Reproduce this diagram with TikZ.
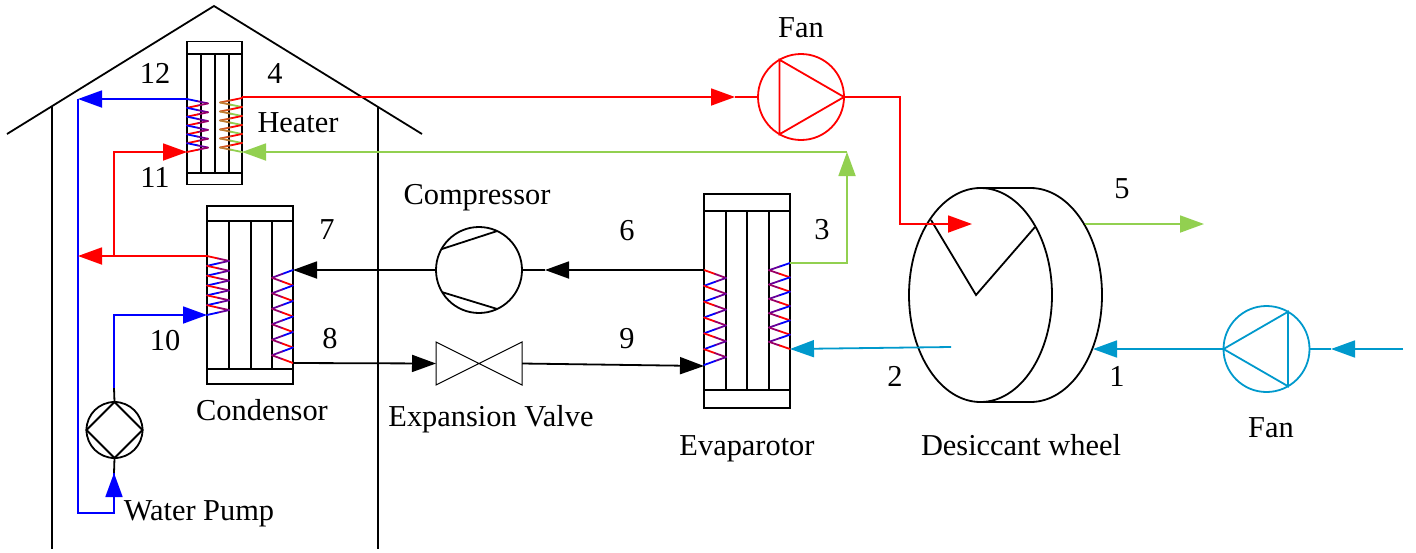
\documentclass[tikz,border=0pt]{standalone}
\usepackage{fontspec}
\setmainfont{Liberation Serif}
\usepackage{xcolor}
\usetikzlibrary{arrows.meta,shapes.geometric}

\definecolor{aircol}{HTML}{92D050}
\definecolor{ambcol}{HTML}{0099CC}

\tikzset{
  lbl/.style={font=\fontsize{15.2}{18}\selectfont,inner sep=0pt},
  part/.style={draw,inner sep=0pt,outer sep=0pt,line width=0.9pt},
  pipe/.style={line width=0.9pt},
  tip/.style={-{Triangle[length=12pt,width=8.5pt]}}
}

% outer x, inner x, top y, bottom y, two colours
\newcommand{\coil}[6]{%
  \pgfmathsetmacro{\dy}{(#4-#3)/12}
  \pgfmathsetmacro{\xm}{(#1+#2)/2}
  \foreach \k in {0,...,5} {
    \pgfmathsetmacro{\ya}{#3+2*\k*\dy}
    \pgfmathsetmacro{\yb}{\ya+0.5*\dy}
    \pgfmathsetmacro{\yc}{\ya+\dy}
    \pgfmathsetmacro{\yd}{\ya+1.5*\dy}
    \pgfmathsetmacro{\ye}{\ya+2*\dy}
    \draw[pipe,line cap=round,#5] (#1,\ya) -- (\xm,\yb);
    \draw[pipe,line cap=round,#5!60!#6] (\xm,\yb) -- (#2,\yc);
    \draw[pipe,line cap=round,#6!60!#5] (#2,\yc) -- (\xm,\yd);
    \draw[pipe,line cap=round,#6] (\xm,\yd) -- (#1,\ye);
  }
}
% headers and plates of an exchanger: name, y of the headers, x of the plates
\newcommand{\plates}[6]{%
  \draw[pipe] (#1.west |- 0,#2) -- (#1.east |- 0,#2);
  \draw[pipe] (#1.west |- 0,#3) -- (#1.east |- 0,#3);
  \foreach \xp in {#4,#5,#6}
    \draw[pipe] (\xp,#2) -- (\xp,#3);
}

\begin{document}
\begin{tikzpicture}[x=0.5pt,y=-0.5pt]
    \useasboundingbox (0,0) rectangle (1416,552);

    % House
    \coordinate (roofL) at (7,134);
    \coordinate (roofT) at (214,6);
    \coordinate (roofR) at (422,134);
    \draw[pipe] (roofL) -- (roofT) -- (roofR);
    \draw[pipe] (52,106) -- (52,549);
    \draw[pipe] (378,107) -- (378,549);

    % Exchangers
    \node[part,minimum width=27.5pt,minimum height=71.5pt] (heater) at (214.5,113) {};
    \node[part,minimum width=43pt,minimum height=89pt] (condensor) at (250,295) {};
    \node[part,minimum width=43pt,minimum height=107pt] (evaporator) at (747,301) {};
    \plates{heater}{54}{173}{201}{215}{229}
    \plates{condensor}{221}{369}{229}{251}{272}
    \plates{evaporator}{211}{390}{726}{747}{769}

    % Coils
    \coil{187}{208}{99}{152}{blue}{red}
    \coil{242}{220}{98}{152}{red}{aircol}
    \coil{207}{229}{256}{315}{red}{blue}
    \coil{293}{272}{270}{363}{blue}{red}
    \coil{704}{726}{270}{365}{red}{blue}
    \coil{790}{769}{263}{349}{blue}{red}

    % Compressor and valve
    \node[part,circle,minimum size=43pt] (compressor) at (479,270) {};
    \draw[pipe] (compressor.151) -- (compressor.65);
    \draw[pipe] (compressor.211) -- (compressor.-65);
    \node[inner sep=0pt,outer sep=0pt,minimum width=43pt,minimum height=21.5pt] (valve) at (479,363.5) {};
    \draw[line width=0.5pt] (valve.north west) -- (valve.south east) -- (valve.north east)
        -- (valve.south west) -- cycle;

    % Fans and pump
    \node[part,circle,red,minimum size=43pt] (fanred) at (801,97) {};
    \draw[pipe,red] (fanred.0) -- (fanred.120) -- (fanred.240) -- cycle;
    \node[part,circle,ambcol,minimum size=43pt] (fanblue) at (1266.5,349) {};
    \draw[pipe,ambcol] (fanblue.180) -- (fanblue.60) -- (fanblue.-60) -- cycle;
    \node[part,circle,minimum size=28pt] (pump) at (114.5,430) {};
    \draw[pipe] (pump.0) -- (pump.90) -- (pump.180) -- (pump.270) -- cycle;

    % Desiccant wheel
    \node[part,ellipse,minimum width=71.5pt,minimum height=107pt] (wheel) at (980.5,295) {};
    \draw[pipe] (wheel.north) -- (1030.5,188)
        arc[start angle=-90,end angle=90,x radius=71.5,y radius=107] -- (wheel.south);
    \coordinate (sectorA) at (931,220);
    \coordinate (sectorB) at (976,295);
    \coordinate (sectorC) at (1035,227);
    \draw[pipe] (sectorA) -- (sectorB) -- (sectorC);

    % Ports
    \coordinate (heatW) at (187,99);
    \coordinate (heatN) at (187,152);
    \coordinate (heatR) at (242,97);
    \coordinate (heatA) at (242,152);
    \coordinate (condHot) at (207,256);
    \coordinate (condCold) at (207,315);
    \coordinate (condIn) at (293,270);
    \coordinate (condOut) at (293,363);
    \coordinate (evapOut) at (704,270);
    \coordinate (evapIn) at (704,366);
    \coordinate (evapAirO) at (790,263);
    \coordinate (evapAirI) at (790,349);

    % Refrigerant
    \coordinate (compTip) at (545,270);
    \draw[pipe,tip] (evapOut) -- (compTip);
    \draw[pipe] (compTip) -- (compressor.east);
    \draw[pipe,tip] (compressor.west) -- (condIn);
    \draw[pipe,tip] (condOut) -- (valve.west);
    \draw[pipe,tip] (valve.east) -- (evapIn);

    % Water
    \coordinate (mainBlue) at (78,99);
    \coordinate (mainRed) at (78,256);
    \coordinate (teeRed) at (114,256);
    \coordinate (corner) at (78,513);
    \coordinate (pumpTip) at (114,473);
    \coordinate (pumpOut) at (114,388);
    \draw[pipe,blue] (mainBlue) -- (corner) -| (pumpTip);
    \draw[pipe,blue,tip] (heatW) -- (mainBlue);
    \draw[pipe,blue,tip] (corner -| pumpTip) -- (pumpTip);
    \draw[pipe] (pumpTip) -- (pump.south);
    \draw[pipe] (pump.north) -- (pumpOut);
    \draw[pipe,blue,tip] (pumpOut) |- (condCold);
    \draw[pipe,red,tip] (condHot) -- (mainRed);
    \draw[pipe,red,tip] (teeRed) |- (heatN);

    % Air
    \coordinate (fanTip) at (735,97);
    \coordinate (wheelTip) at (972,224);
    \coordinate (wheelGreen) at (1085,224);
    \coordinate (greenEnd) at (1204,224);
    \coordinate (greenUp) at (847,152);
    \coordinate (wheelBlue) at (1093,349);
    \coordinate (wheelMid) at (951,347);
    \coordinate (ambEnd) at (1403,349);
    \coordinate (ambTip) at (1331,349);
    \draw[pipe,red,tip] (heatR) -- (fanTip);
    \draw[pipe,red] (fanTip) -- (fanred.west);
    \draw[pipe,red,tip] (fanred.east) -- (900,97) |- (wheelTip);
    \draw[pipe,aircol,tip] (evapAirO) -| (greenUp);
    \draw[pipe,aircol,tip] (greenUp) -- (heatA);
    \draw[pipe,aircol,tip] (wheelGreen) -- (greenEnd);
    \draw[pipe,ambcol,tip] (ambEnd) -- (ambTip);
    \draw[pipe,ambcol] (ambTip) -- (fanblue.east);
    \draw[pipe,ambcol,tip] (fanblue.west) -- (wheelBlue);
    \draw[pipe,ambcol,tip] (wheelMid) -- (evapAirI);

    % Labels
    \node[lbl] (lblFanA) at (801,28) {Fan};
    \node[lbl] (lblFanB) at (1271,428) {Fan};
    \node[lbl] (lblHeater) at (298,123) {Heater};
    \node[lbl] (lblComp) at (477,198) {Compressor};
    \node[lbl] (lblCond) at (262,410) {Condensor};
    \node[lbl] (lblValve) at (491,419) {Expansion Valve};
    \node[lbl] (lblEvap) at (747,449) {Evaparotor};
    \node[lbl] (lblWheel) at (1021,445) {Desiccant wheel};
    \node[lbl] (lblPump) at (199,514) {Water Pump};
    \node[lbl] (n1) at (1117,376) {1};
    \node[lbl] (n2) at (895,376) {2};
    \node[lbl] (n3) at (822,230) {3};
    \node[lbl] (n4) at (275,73) {4};
    \node[lbl] (n5) at (1122,189) {5};
    \node[lbl] (n6) at (627,231) {6};
    \node[lbl] (n7) at (327,230) {7};
    \node[lbl] (n8) at (330,339) {8};
    \node[lbl] (n9) at (627,339) {9};
    \node[lbl] (n10) at (165,341) {10};
    \node[lbl] (n11) at (155,177) {11};
    \node[lbl] (n12) at (155,73) {12};
\end{tikzpicture}
\end{document}
